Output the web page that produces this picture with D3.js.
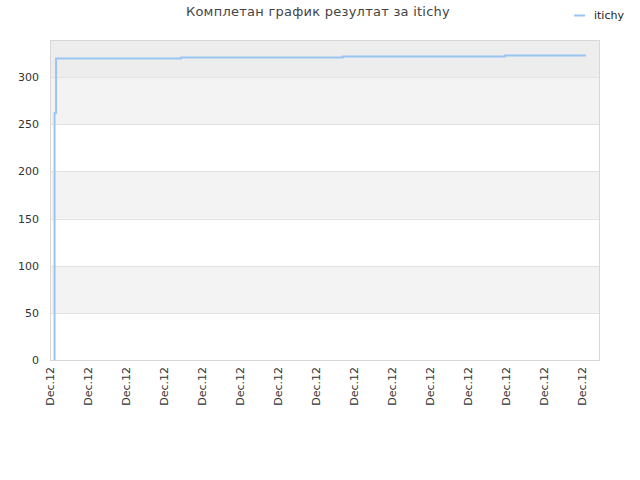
<!DOCTYPE html>
<html>
<head>
<meta charset="utf-8">
<script src="https://cdn.jsdelivr.net/npm/d3@7"></script>
<style>
  body { margin: 0; background: #fff; }
  svg { font-family: "DejaVu Sans", sans-serif; }
</style>
</head>
<body>
<div class="svg-container"></div>
<script>
// chart data (x in tick units, one tick per label)
const title = "Комплетан график резултат за itichy";
const seriesName = "itichy";
const tickPositions = [0, 1, 2, 3, 4, 5, 6, 7, 8, 9, 10, 11, 12, 13, 14];
const tickLabels = ["Dec.12", "Dec.12", "Dec.12", "Dec.12", "Dec.12", "Dec.12", "Dec.12",
  "Dec.12", "Dec.12", "Dec.12", "Dec.12", "Dec.12", "Dec.12", "Dec.12", "Dec.12"];
const xValues = [0.12, 0.12, 0.16, 0.16, 1.32, 3.45, 3.45, 7.7, 7.7, 11.97, 11.97, 14.1];
const scores = [0, 262, 262, 320, 320, 320, 321, 321, 322, 322, 323, 323];
const yTicks = [0, 50, 100, 150, 200, 250, 300];

const width = 640;
const height = 480;
const margin = { top: 40, right: 40, bottom: 120, left: 50 };

const svg = d3
  .select(".svg-container")
  .append("svg")
  .attr("width", width)
  .attr("height", height);

const x = d3
  .scaleLinear()
  .domain([0, 14.47])
  .range([margin.left, width - margin.right]);

const y = d3
  .scaleLinear()
  .domain([0, 339.5])
  .range([height - margin.bottom, margin.top]);

// background bands
const bands = yTicks.map((v, i) => ({
  from: v,
  to: i < yTicks.length - 1 ? yTicks[i + 1] : y.domain()[1],
  i: i,
}));

svg
  .append("g")
  .selectAll("rect")
  .data(bands)
  .enter()
  .append("rect")
  .attr("x", margin.left)
  .attr("width", width - margin.left - margin.right)
  .attr("y", (d) => y(d.to))
  .attr("height", (d) => y(d.from) - y(d.to))
  .attr("fill", (d) => (d.i === 6 ? "#ededed" : d.i % 2 === 1 ? "#f3f3f3" : "#ffffff"));

// grid lines
svg
  .append("g")
  .selectAll("line")
  .data(yTicks.slice(1))
  .enter()
  .append("line")
  .attr("x1", margin.left)
  .attr("x2", width - margin.right)
  .attr("y1", (d) => Math.round(y(d)) + 0.5)
  .attr("y2", (d) => Math.round(y(d)) + 0.5)
  .attr("stroke", "#e2e2e2");

// plot border
svg
  .append("rect")
  .attr("x", margin.left + 0.5)
  .attr("y", margin.top + 0.5)
  .attr("width", width - margin.left - margin.right - 1)
  .attr("height", height - margin.top - margin.bottom)
  .attr("fill", "none")
  .attr("stroke", "#d8d8d8");

// y axis labels
svg
  .append("g")
  .selectAll("text")
  .data(yTicks)
  .enter()
  .append("text")
  .attr("x", margin.left - 11)
  .attr("y", (d) => y(d) + 4)
  .attr("text-anchor", "end")
  .attr("font-size", "11px")
  .attr("fill", "#333")
  .text((d) => d);

// x axis labels
svg
  .append("g")
  .selectAll("text")
  .data(tickPositions)
  .enter()
  .append("text")
  .attr("transform", (d) => `translate(${x(d) + 4},${height - margin.bottom + 7}) rotate(-90)`)
  .attr("text-anchor", "end")
  .attr("font-size", "11px")
  .attr("fill", "#333")
  .text((d, i) => tickLabels[i]);

// score line
const points = xValues.map((v, i) => [v, scores[i]]);
svg
  .append("path")
  .datum(points)
  .attr("fill", "none")
  .attr("stroke", "#99c5f1")
  .attr("stroke-width", 2)
  .attr("d", d3.line().x((d) => x(d[0])).y((d) => y(d[1])));

// title
svg
  .append("text")
  .attr("x", 318)
  .attr("y", 16)
  .attr("text-anchor", "middle")
  .attr("font-size", "13px")
  .attr("letter-spacing", "0.25px")
  .attr("fill", "#444")
  .text(title);

// legend
svg
  .append("line")
  .attr("x1", 574)
  .attr("x2", 585)
  .attr("y1", 15.5)
  .attr("y2", 15.5)
  .attr("stroke", "#99c5f1")
  .attr("stroke-width", 2);

svg
  .append("text")
  .attr("x", 594)
  .attr("y", 19)
  .attr("font-size", "11px")
  .attr("fill", "#222")
  .text(seriesName);
</script>
</body>
</html>
